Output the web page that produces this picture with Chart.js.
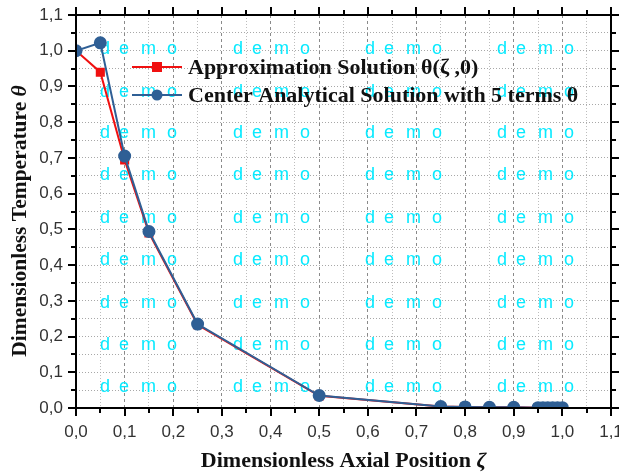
<!DOCTYPE html>
<html>
<head>
<meta charset="utf-8">
<script src="https://cdn.jsdelivr.net/npm/chart.js@4"></script>
<style>
  html, body { margin: 0; padding: 0; background: #fff; }
  #wrap { width: 619px; height: 475px; }
</style>
</head>
<body>
<div id="wrap"><canvas id="chart"></canvas></div>
<script>
const xPositions = [0, 0.05, 0.1, 0.15, 0.25, 0.5, 0.75, 0.8, 0.85, 0.9, 0.95, 0.96, 0.97, 0.98, 0.99, 1.0];
const approxValues = [1.0, 0.94, 0.694, 0.49, 0.233, 0.034, 0.004, 0.003, 0.002, 0.002, 0.001, 0.001, 0.001, 0.001, 0.001, 0.001];
const analyticValues = [1.0, 1.022, 0.705, 0.494, 0.235, 0.035, 0.004, 0.003, 0.002, 0.002, 0.001, 0.001, 0.001, 0.001, 0.001, 0.001];
const seriesNames = ['Approximation Solution \u03b8(\u03b6 ,0)', 'Center Analytical Solution with 5 terms \u03b8'];
const xTitle = ['Dimensionless Axial Position ', '\u03b6'];
const yTitle = ['Dimensionless Temperature ', '\u03b8'];

const RED = '#f01010';
const BLUE = '#2f5f95';
const SERIF = '"Liberation Serif", "Times New Roman", serif';

const isMajor = v => Math.round(v * 100) % 10 === 0;
const fmt = v => isMajor(v) ? v.toFixed(1).replace('.', ',') : '';

const toPoints = vals => vals.map((y, i) => ({ x: xPositions[i], y: y }));

// Origin demo watermark
const watermark = {
    id: 'watermark',
    beforeDatasetsDraw(chart) {
        const ctx = chart.ctx;
        ctx.save();
        ctx.font = '18px "Liberation Sans", Arial, sans-serif';
        ctx.fillStyle = '#08eaff';
        ctx.textBaseline = 'middle';
        const cols = [100, 233, 365, 497];
        const rows = [49, 92, 133, 175, 218, 260, 303, 345, 387];
        const offs = [0, 19, 41, 67];
        const letters = ['d', 'e', 'm', 'o'];
        rows.forEach(r => cols.forEach(c => {
            letters.forEach((l, i) => ctx.fillText(l, c + offs[i], r));
        }));
        ctx.restore();
    }
};

// box frame with outward ticks on four sides
const frame = {
    id: 'frame',
    afterDatasetsDraw(chart) {
        const ctx = chart.ctx;
        const a = chart.chartArea;
        const xs = chart.scales.x, ys = chart.scales.y;
        ctx.save();
        ctx.strokeStyle = '#000';
        ctx.lineWidth = 2;
        ctx.strokeRect(a.left, a.top, a.right - a.left, a.bottom - a.top);
        xs.ticks.forEach(t => {
            const p = Math.round(xs.getPixelForValue(t.value));
            const len = isMajor(t.value) ? 8 : 5;
            ctx.beginPath();
            ctx.moveTo(p, a.bottom); ctx.lineTo(p, a.bottom + len);
            ctx.moveTo(p, a.top); ctx.lineTo(p, a.top - len);
            ctx.stroke();
        });
        ys.ticks.forEach(t => {
            const p = Math.round(ys.getPixelForValue(t.value));
            const len = isMajor(t.value) ? 8 : 5;
            ctx.beginPath();
            ctx.moveTo(a.left, p); ctx.lineTo(a.left - len, p);
            ctx.moveTo(a.right, p); ctx.lineTo(a.right + len, p);
            ctx.stroke();
        });
        ctx.restore();
    }
};

// axis titles with italic greek symbol
function drawTitle(ctx, parts, size) {
    ctx.font = 'bold ' + size + 'px ' + SERIF;
    const w1 = ctx.measureText(parts[0]).width;
    ctx.font = 'italic bold ' + size + 'px ' + SERIF;
    const w2 = ctx.measureText(parts[1]).width;
    const x0 = -(w1 + w2) / 2;
    ctx.font = 'bold ' + size + 'px ' + SERIF;
    ctx.fillText(parts[0], x0, 0);
    ctx.font = 'italic bold ' + size + 'px ' + SERIF;
    ctx.fillText(parts[1], x0 + w1, 0);
}

const axisTitles = {
    id: 'axisTitles',
    afterDraw(chart) {
        const ctx = chart.ctx;
        const a = chart.chartArea;
        ctx.save();
        ctx.fillStyle = '#111';
        ctx.textBaseline = 'middle';
        ctx.textAlign = 'left';
        ctx.save();
        ctx.translate((a.left + a.right) / 2, 461);
        drawTitle(ctx, xTitle, 22);
        ctx.restore();
        ctx.save();
        ctx.translate(20, 221);
        ctx.rotate(-Math.PI / 2);
        drawTitle(ctx, yTitle, 21.5);
        ctx.restore();
        ctx.restore();
    }
};

// legend drawn inside the plot area
const innerLegend = {
    id: 'innerLegend',
    afterDatasetsDraw(chart) {
        const ctx = chart.ctx;
        ctx.save();
        ctx.font = 'bold 22px ' + SERIF;
        ctx.textBaseline = 'middle';
        const rows = [67, 95];
        chart.data.datasets.forEach((ds, i) => {
            const y = rows[i];
            ctx.strokeStyle = ds.borderColor;
            ctx.lineWidth = 2;
            ctx.beginPath();
            ctx.moveTo(132, y); ctx.lineTo(182, y);
            ctx.stroke();
            ctx.fillStyle = ds.backgroundColor;
            if (ds.pointStyle === 'rect') {
                ctx.fillRect(157 - 5, y - 5, 10, 10);
            } else {
                ctx.beginPath();
                ctx.arc(157, y, 5.5, 0, Math.PI * 2);
                ctx.fill();
            }
            ctx.fillStyle = '#111';
            ctx.fillText(ds.label, 188, y + 1);
        });
        ctx.restore();
    }
};

new Chart(document.getElementById('chart'), {
    type: 'scatter',
    data: {
        datasets: [{
            label: seriesNames[0],
            data: toPoints(approxValues),
            showLine: true,
            borderColor: RED,
            backgroundColor: RED,
            borderWidth: 2,
            pointStyle: 'rect',
            pointRadius: 5,
            pointHoverRadius: 5,
            order: 2
        }, {
            label: seriesNames[1],
            data: toPoints(analyticValues),
            showLine: true,
            borderColor: BLUE,
            backgroundColor: BLUE,
            borderWidth: 2,
            pointStyle: 'circle',
            pointRadius: 5.5,
            pointHoverRadius: 5.5,
            order: 1
        }]
    },
    options: {
        responsive: true,
        maintainAspectRatio: false,
        animation: false,
        layout: { padding: { top: 15, right: 8, left: 0, bottom: 0 } },
        plugins: {
            legend: { display: false },
            tooltip: { enabled: false }
        },
        scales: {
            x: {
                type: 'linear',
                min: 0,
                max: 1.1,
                afterBuildTicks: s => {
                    s.ticks = [];
                    for (let i = 0; i <= 22; i++) s.ticks.push({ value: i * 0.05 });
                },
                afterFit: s => {
                    s.height = 67;
                    s.paddingLeft = 0;
                    s.paddingRight = 0;
                },
                ticks: {
                    autoSkip: false,
                    maxRotation: 0,
                    padding: 14,
                    color: '#333',
                    font: { family: '"Liberation Sans", Arial, sans-serif', size: 17 },
                    callback: v => fmt(v)
                },
                grid: {
                    drawTicks: false,
                    color: c => isMajor(c.tick.value) ? '#8a8a8a' : '#bdbdbd',
                    lineWidth: 1
                },
                border: { display: false, dash: c => isMajor(c.tick.value) ? [3, 3] : [1, 2] }
            },
            y: {
                type: 'linear',
                min: 0,
                max: 1.1,
                afterBuildTicks: s => {
                    s.ticks = [];
                    for (let i = 0; i <= 22; i++) s.ticks.push({ value: i * 0.05 });
                },
                afterFit: s => {
                    s.width = 76;
                    s.paddingTop = 0;
                    s.paddingBottom = 0;
                },
                ticks: {
                    autoSkip: false,
                    padding: 13,
                    color: '#333',
                    font: { family: '"Liberation Sans", Arial, sans-serif', size: 17 },
                    callback: v => fmt(v)
                },
                grid: {
                    drawTicks: false,
                    color: '#a8a8a8',
                    lineWidth: 1
                },
                border: { display: false, dash: [1, 2] }
            }
        }
    },
    plugins: [watermark, frame, innerLegend, axisTitles]
});
</script>
</body>
</html>
